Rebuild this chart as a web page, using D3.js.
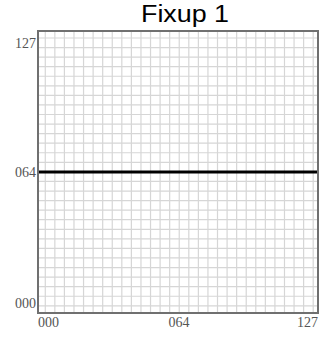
<!DOCTYPE html>
<html>
<head>
<meta charset="utf-8">
<script src="https://cdn.jsdelivr.net/npm/d3@7"></script>
<style>
  html, body { margin: 0; padding: 0; background: #fff; }
  svg { display: block; }
</style>
</head>
<body>
<svg id="chart" width="321" height="337"></svg>
<script>
// Series: a single flat line across the full range
const lineX = [0, 127];
const lineY = [64, 64];

// Tick values and their labels
const xTicks = [0, 64, 127];
const yTicks = [0, 64, 127];
const tickLabels = ["000", "064", "127"];

const title = "Fixup 1";

const plot = { left: 38, right: 318, top: 31, bottom: 313 };

const x = d3.scaleLinear().domain([0, 127]).range([plot.left, plot.right]);
const y = d3.scaleLinear().domain([-4.9, 132.8]).range([plot.bottom, plot.top]);

const svg = d3.select("#chart");

// Background grid
const gx = d3.range(0, 29).map(k => 3.3 + k * 4.34);
const gy = d3.range(-14, 15).map(k => 64 + k * 4.67).filter(v => v > -4.5 && v < 132.4);

const grid = svg.append("g");
grid.selectAll("line.vx").data(gx).join("line")
  .attr("x1", d => x(d)).attr("x2", d => x(d))
  .attr("y1", plot.top).attr("y2", plot.bottom)
  .attr("stroke", "#d6d6d6").attr("stroke-width", 1.2);
grid.selectAll("line.hy").data(gy).join("line")
  .attr("y1", d => y(d)).attr("y2", d => y(d))
  .attr("x1", plot.left).attr("x2", plot.right)
  .attr("stroke", "#d6d6d6").attr("stroke-width", 1.2);

// Data line
const line = d3.line().x((d, i) => x(lineX[i])).y(d => y(d));
svg.append("path").datum(lineY)
  .attr("d", line)
  .attr("fill", "none")
  .attr("stroke", "#000")
  .attr("stroke-width", 3);

// Frame
svg.append("rect")
  .attr("x", plot.left).attr("y", plot.top)
  .attr("width", plot.right - plot.left).attr("height", plot.bottom - plot.top)
  .attr("fill", "none").attr("stroke", "#707070").attr("stroke-width", 2);

// Axis labels
const labelFont = "'Liberation Serif', 'Times New Roman', serif";
svg.append("g").selectAll("text").data(yTicks).join("text")
  .attr("x", plot.left - 2)
  .attr("y", d => y(d))
  .attr("dy", "0.35em")
  .attr("text-anchor", "end")
  .attr("font-family", labelFont).attr("font-size", 14)
  .attr("fill", "#555")
  .text((d, i) => tickLabels[i]);

const xAnchor = ["start", "middle", "end"];
svg.append("g").selectAll("text").data(xTicks).join("text")
  .attr("x", d => x(d))
  .attr("y", plot.bottom + 14)
  .attr("text-anchor", (d, i) => xAnchor[i])
  .attr("font-family", labelFont).attr("font-size", 14)
  .attr("fill", "#555")
  .text((d, i) => tickLabels[i]);

// Title
svg.append("text")
  .attr("x", 185).attr("y", 22)
  .attr("text-anchor", "middle")
  .attr("font-family", "'Liberation Sans', Arial, sans-serif")
  .attr("font-size", 23)
  .attr("textLength", 88)
  .attr("lengthAdjust", "spacingAndGlyphs")
  .attr("fill", "#000")
  .text(title);
</script>
</body>
</html>
